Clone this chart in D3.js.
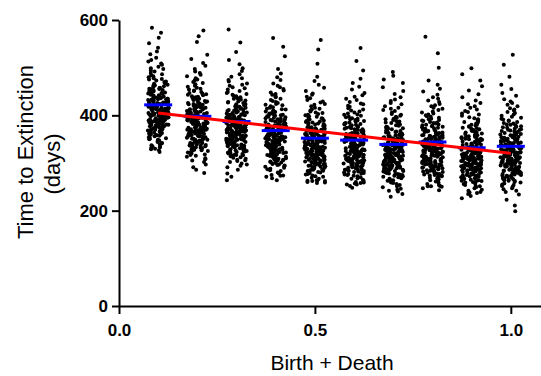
<!DOCTYPE html>
<html>
<head>
<meta charset="utf-8">
<script src="https://cdn.jsdelivr.net/npm/d3@7"></script>
<style>
  body { margin: 0; background: #fff; }
  text { font-family: "Liberation Sans", Arial, sans-serif; }
</style>
</head>
<body>
<div id="chart"></div>
<script>
// x categories (birth + death rate)
let birthDeath = [0.1, 0.2, 0.3, 0.4, 0.5, 0.6, 0.7, 0.8, 0.9, 1.0];

// time to extinction (days), one array per birth + death value
let time01 = [323,327,330,333,335,329,332,334,337,339,341,342,344,346,347,349,350,351,352,353,354,355,356,357,
  358,359,360,360,361,362,363,364,365,366,366,367,368,369,369,370,371,371,372,373,373,374,375,375,376,377,377,
  378,379,379,380,380,381,382,382,383,383,384,385,385,386,386,387,387,388,388,389,389,390,390,391,391,392,392,393,394,394,395,395,396,396,397,
  398,398,399,399,400,400,401,401,402,402,403,403,404,404,405,405,406,406,407,408,408,409,409,410,410,411,411,412,412,413,413,414,414,415,415,416,416,417,
  418,418,419,419,420,421,421,422,422,423,424,424,425,425,426,427,427,428,429,429,430,431,431,432,433,433,434,435,435,436,437,437,
  438,439,440,441,441,442,443,444,445,445,446,447,448,449,450,451,452,453,454,455,456,457,458,459,461,462,463,464,466,467,
  468,470,471,473,475,476,478,480,482,484,486,489,492,494,497,499,502,506,509,513,516,521,528,534,542,551,563,573,584];
let time02 = [279,286,291,297,302,305,308,310,313,315,317,318,320,322,323,325,326,327,328,329,330,331,332,333,
  334,335,336,336,337,338,339,340,341,342,342,343,344,345,345,346,347,347,348,349,349,350,351,351,352,353,353,
  354,355,355,356,356,357,358,358,359,359,360,361,361,362,362,363,363,364,364,365,365,366,366,367,367,368,368,369,370,370,371,371,372,372,373,
  374,374,375,375,376,376,377,377,378,378,379,379,380,380,381,381,382,382,383,384,384,385,385,386,386,387,387,388,388,389,389,390,390,391,391,392,392,393,
  394,394,395,395,396,397,397,398,398,399,400,400,401,401,402,403,403,404,405,405,406,407,407,408,409,409,410,411,411,412,413,413,
  414,415,416,417,417,418,419,420,421,421,422,423,424,425,426,427,428,429,430,431,432,433,434,435,437,438,439,440,442,443,
  444,446,447,449,451,452,454,456,458,460,462,465,468,470,473,475,478,482,485,489,492,497,504,510,518,527,554,566,578];
let time03 = [264,271,278,286,291,294,297,299,302,304,306,307,309,311,312,314,315,316,317,318,319,320,321,322,
  323,324,325,325,326,327,328,329,330,331,331,332,333,334,334,335,336,336,337,338,338,339,340,340,341,342,342,
  343,344,344,345,345,346,347,347,348,348,349,350,350,351,351,352,352,353,353,354,354,355,355,356,356,357,357,358,359,359,360,360,361,361,362,
  363,363,364,364,365,365,366,366,367,367,368,368,369,369,370,370,371,371,372,373,373,374,374,375,375,376,376,377,377,378,378,379,379,380,380,381,381,382,
  383,383,384,384,385,386,386,387,387,388,389,389,390,390,391,392,392,393,394,394,395,396,396,397,398,398,399,400,400,401,402,402,
  403,404,405,406,406,407,408,409,410,410,411,412,413,414,415,416,417,418,419,420,421,422,423,424,426,427,428,429,431,432,
  433,435,436,438,440,441,443,445,447,449,451,454,457,459,462,464,467,471,474,478,481,486,493,499,507,516,533,553,580];
let time04 = [264,268,271,273,274,275,278,280,283,285,287,288,290,292,293,295,296,297,298,299,300,301,302,303,
  304,305,306,306,307,308,309,310,311,312,312,313,314,315,315,316,317,317,318,319,319,320,321,321,322,323,323,
  324,325,325,326,326,327,328,328,329,329,330,331,331,332,332,333,333,334,334,335,335,336,336,337,337,338,338,339,340,340,341,341,342,342,343,
  344,344,345,345,346,346,347,347,348,348,349,349,350,350,351,351,352,352,353,354,354,355,355,356,356,357,357,358,358,359,359,360,360,361,361,362,362,363,
  364,364,365,365,366,367,367,368,368,369,370,370,371,371,372,373,373,374,375,375,376,377,377,378,379,379,380,381,381,382,383,383,
  384,385,386,387,387,388,389,390,391,391,392,393,394,395,396,397,398,399,400,401,402,403,404,405,407,408,409,410,412,413,
  414,416,417,419,421,422,424,426,428,430,432,435,438,440,443,445,448,452,455,459,462,467,474,480,488,497,524,544,562];
let time05 = [258,260,262,263,264,259,262,264,267,269,271,272,274,276,277,279,280,281,282,283,284,285,286,287,
  288,289,290,290,291,292,293,294,295,296,296,297,298,299,299,300,301,301,302,303,303,304,305,305,306,307,307,
  308,309,309,310,310,311,312,312,313,313,314,315,315,316,316,317,317,318,318,319,319,320,320,321,321,322,322,323,324,324,325,325,326,326,327,
  328,328,329,329,330,330,331,331,332,332,333,333,334,334,335,335,336,336,337,338,338,339,339,340,340,341,341,342,342,343,343,344,344,345,345,346,346,347,
  348,348,349,349,350,351,351,352,352,353,354,354,355,355,356,357,357,358,359,359,360,361,361,362,363,363,364,365,365,366,367,367,
  368,369,370,371,371,372,373,374,375,375,376,377,378,379,380,381,382,383,384,385,386,387,388,389,391,392,393,394,396,397,
  398,400,401,403,405,406,408,410,412,414,416,419,422,424,427,429,432,436,439,443,446,451,458,464,472,481,508,538,558];
let time06 = [248,252,255,257,259,255,258,260,263,265,267,268,270,272,273,275,276,277,278,279,280,281,282,283,
  284,285,286,286,287,288,289,290,291,292,292,293,294,295,295,296,297,297,298,299,299,300,301,301,302,303,303,
  304,305,305,306,306,307,308,308,309,309,310,311,311,312,312,313,313,314,314,315,315,316,316,317,317,318,318,319,320,320,321,321,322,322,323,
  324,324,325,325,326,326,327,327,328,328,329,329,330,330,331,331,332,332,333,334,334,335,335,336,336,337,337,338,338,339,339,340,340,341,341,342,342,343,
  344,344,345,345,346,347,347,348,348,349,350,350,351,351,352,353,353,354,355,355,356,357,357,358,359,359,360,361,361,362,363,363,
  364,365,366,367,367,368,369,370,371,371,372,373,374,375,376,377,378,379,380,381,382,383,384,385,387,388,389,390,392,393,
  394,396,397,399,401,402,404,406,408,410,412,415,418,420,423,425,428,432,435,439,442,447,454,460,468,477,494,514,541];
let time07 = [229,235,240,242,244,246,249,251,254,256,258,259,261,263,264,266,267,268,269,270,271,272,273,274,
  275,276,277,277,278,279,280,281,282,283,283,284,285,286,286,287,288,288,289,290,290,291,292,292,293,294,294,
  295,296,296,297,297,298,299,299,300,300,301,302,302,303,303,304,304,305,305,306,306,307,307,308,308,309,309,310,311,311,312,312,313,313,314,
  315,315,316,316,317,317,318,318,319,319,320,320,321,321,322,322,323,323,324,325,325,326,326,327,327,328,328,329,329,330,330,331,331,332,332,333,333,334,
  335,335,336,336,337,338,338,339,339,340,341,341,342,342,343,344,344,345,346,346,347,348,348,349,350,350,351,352,352,353,354,354,
  355,356,357,358,358,359,360,361,362,362,363,364,365,366,367,368,369,370,371,372,373,374,375,376,378,379,380,381,383,384,
  385,387,388,390,392,393,395,397,399,401,403,406,409,411,414,416,419,423,426,430,433,438,445,451,459,468,475,483,491];
let time08 = [243,247,250,251,252,251,254,256,259,261,263,264,266,268,269,271,272,273,274,275,276,277,278,279,
  280,281,282,282,283,284,285,286,287,288,288,289,290,291,291,292,293,293,294,295,295,296,297,297,298,299,299,
  300,301,301,302,302,303,304,304,305,305,306,307,307,308,308,309,309,310,310,311,311,312,312,313,313,314,314,315,316,316,317,317,318,318,319,
  320,320,321,321,322,322,323,323,324,324,325,325,326,326,327,327,328,328,329,330,330,331,331,332,332,333,333,334,334,335,335,336,336,337,337,338,338,339,
  340,340,341,341,342,343,343,344,344,345,346,346,347,347,348,349,349,350,351,351,352,353,353,354,355,355,356,357,357,358,359,359,
  360,361,362,363,363,364,365,366,367,367,368,369,370,371,372,373,374,375,376,377,378,379,380,381,383,384,385,386,388,389,
  390,392,393,395,397,398,400,402,404,406,408,411,414,416,419,421,424,428,431,435,438,443,450,456,464,473,500,530,565];
let time09 = [226,231,235,237,238,239,242,244,247,249,251,252,254,256,257,259,260,261,262,263,264,265,266,267,
  268,269,270,270,271,272,273,274,275,276,276,277,278,279,279,280,281,281,282,283,283,284,285,285,286,287,287,
  288,289,289,290,290,291,292,292,293,293,294,295,295,296,296,297,297,298,298,299,299,300,300,301,301,302,302,303,304,304,305,305,306,306,307,
  308,308,309,309,310,310,311,311,312,312,313,313,314,314,315,315,316,316,317,318,318,319,319,320,320,321,321,322,322,323,323,324,324,325,325,326,326,327,
  328,328,329,329,330,331,331,332,332,333,334,334,335,335,336,337,337,338,339,339,340,341,341,342,343,343,344,345,345,346,347,347,
  348,349,350,351,351,352,353,354,355,355,356,357,358,359,360,361,362,363,364,365,366,367,368,369,371,372,373,374,376,377,
  378,380,381,383,385,386,388,390,392,394,396,399,402,404,407,409,412,416,419,423,426,431,438,444,452,461,473,486,499];
let time10 = [199,211,223,234,239,242,245,247,250,252,254,255,257,259,260,262,263,264,265,266,267,268,269,270,
  271,272,273,273,274,275,276,277,278,279,279,280,281,282,282,283,284,284,285,286,286,287,288,288,289,290,290,
  291,292,292,293,293,294,295,295,296,296,297,298,298,299,299,300,300,301,301,302,302,303,303,304,304,305,305,306,307,307,308,308,309,309,310,
  311,311,312,312,313,313,314,314,315,315,316,316,317,317,318,318,319,319,320,321,321,322,322,323,323,324,324,325,325,326,326,327,327,328,328,329,329,330,
  331,331,332,332,333,334,334,335,335,336,337,337,338,338,339,340,340,341,342,342,343,344,344,345,346,346,347,348,348,349,350,350,
  351,352,353,354,354,355,356,357,358,358,359,360,361,362,363,364,365,366,367,368,369,370,371,372,374,375,376,377,379,380,
  381,383,384,386,388,389,391,393,395,397,399,402,405,407,410,412,415,419,422,426,429,434,441,447,455,464,481,506,527];

// group means (blue bars)
let groupMeans = [422, 398, 387, 368, 352, 348, 339, 344, 332, 335];

// tick labels
let xTicks = [0, 0.5, 1.0];
let yTicks = [0, 200, 400, 600];

let createScatter = function () {
    //dimensions for svg
    let width = 541;
    let height = 376;

    let svg = d3.select('#chart')
        .append('svg')
        .attr('width', width)
        .attr('height', height);

    //scales, x axis runs past the right edge
    let x = d3.scaleLinear().domain([0, 1.1]).range([119, 550]);
    let y = d3.scaleLinear().domain([0, 600]).range([306, 20]);

    let groups = [time01, time02, time03, time04, time05, time06, time07, time08, time09, time10];

    //sideways scatter for a dot: integer hash of its rank and column, in -0.5..0.5
    let spread = function (i, gi) {
        let h = (Math.imul(i + 1, 2654435761) ^ Math.imul(gi + 7, 40503)) >>> 0;
        h = (h ^ (h >>> 15)) >>> 0;
        h = Math.imul(h, 2246822519) >>> 0;
        h = (h ^ (h >>> 13)) >>> 0;
        h = Math.imul(h, 3266489917) >>> 0;
        h = (h ^ (h >>> 16)) >>> 0;
        return h / 4294967296 - 0.5;
    };

    //jittered dots
    let dots = svg.append('g');
    groups.forEach(function (vals, gi) {
        let sorted = vals.slice().sort(d3.ascending);
        dots.selectAll('.dot-' + gi)
            .data(sorted)
            .join('circle')
            .attr('class', 'dot-' + gi)
            .attr('cx', (d, i) => x(birthDeath[gi]) + spread(i, gi) * 21)
            .attr('cy', d => y(d))
            .attr('r', 2)
            .attr('fill', '#000');
    });

    //mean bars
    svg.append('g')
        .selectAll('line')
        .data(groupMeans)
        .join('line')
        .attr('x1', (d, i) => x(birthDeath[i]) - 14)
        .attr('x2', (d, i) => x(birthDeath[i]) + 14)
        .attr('y1', d => y(d))
        .attr('y2', d => y(d))
        .attr('stroke', '#0000ff')
        .attr('stroke-width', 3);

    //least squares line through the means (equal group sizes)
    let xm = d3.mean(birthDeath);
    let ym = d3.mean(groupMeans);
    let slope = d3.sum(birthDeath, (d, i) => (d - xm) * (groupMeans[i] - ym)) /
        d3.sum(birthDeath, d => (d - xm) * (d - xm));
    let intercept = ym - slope * xm;
    let ends = d3.extent(birthDeath);

    svg.append('line')
        .attr('x1', x(ends[0]))
        .attr('x2', x(ends[1]))
        .attr('y1', y(intercept + slope * ends[0]))
        .attr('y2', y(intercept + slope * ends[1]))
        .attr('stroke', '#ff0000')
        .attr('stroke-width', 3);

    //axes
    let xAxis = svg.append('g')
        .attr('transform', 'translate(0,306)')
        .call(d3.axisBottom(x).tickValues(xTicks).tickFormat(d3.format('.1f'))
            .tickSize(8).tickSizeOuter(0).tickPadding(10));

    let yAxis = svg.append('g')
        .attr('transform', 'translate(119,0)')
        .call(d3.axisLeft(y).tickValues(yTicks).tickFormat(d3.format('d'))
            .tickSize(7).tickSizeOuter(0).tickPadding(4));

    [xAxis, yAxis].forEach(function (ax) {
        ax.select('.domain').attr('stroke', '#000').attr('stroke-width', 2);
        ax.selectAll('.tick line').attr('stroke', '#000').attr('stroke-width', 2);
        ax.selectAll('.tick text')
            .attr('fill', '#000')
            .attr('font-family', '"Liberation Sans", Arial, sans-serif')
            .attr('font-size', 17)
            .attr('font-weight', 'bold');
    });

    //axis titles
    svg.append('text')
        .attr('x', 332)
        .attr('y', 370)
        .attr('text-anchor', 'middle')
        .attr('font-size', 21)
        .text('Birth + Death');

    svg.append('text')
        .attr('transform', 'translate(33,152) rotate(-90)')
        .attr('text-anchor', 'middle')
        .attr('font-size', 22)
        .text('Time to Extinction');

    svg.append('text')
        .attr('transform', 'translate(60,164) rotate(-90)')
        .attr('text-anchor', 'middle')
        .attr('font-size', 22)
        .text('(days)');
};

createScatter();
</script>
</body>
</html>
